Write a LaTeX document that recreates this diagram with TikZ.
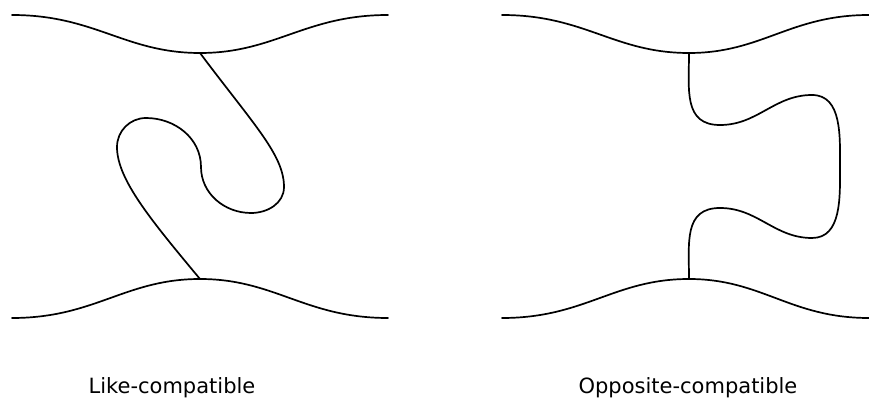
\documentclass[tikz,border=0pt]{standalone}
\usepackage{fontspec}
\setmainfont{DejaVu Sans}
\usepackage{tikz}

\begin{document}
\begin{tikzpicture}[x=1pt,y=1pt,
  strand/.style={line width=1.7pt,line cap=round},
  lbl/.style={font=\fontsize{21}{25}\selectfont,anchor=base}]
% canvas 869 x 399, y measured upwards; waves dip/peak at x=200 (left) and x=689 (right)
\useasboundingbox (0,0) rectangle (869,399);
\coordinate (ltop) at (200,346); \coordinate (lbot) at (200,120);
\coordinate (rtop) at (689,346); \coordinate (rbot) at (689,120);
% outer boundaries
\draw[strand] (12,384) .. controls (95,384) and (125,346) .. (ltop) .. controls (275,346) and (305,384) .. (388,384);
\draw[strand] (12,81) .. controls (95,81) and (125,120) .. (lbot) .. controls (275,120) and (305,81) .. (388,81);
\draw[strand] (502,384) .. controls (585,384) and (614,346) .. (rtop) .. controls (762,346) and (790,384) .. (869,384);
\draw[strand] (502,81) .. controls (585,81) and (614,120) .. (rbot) .. controls (762,120) and (790,81) .. (869,81);
% left strand, loops back on itself
\draw[strand] (ltop) .. controls (254,274) and (284,244) .. (284,212)
  to[out=-90,in=0] (251,186) to[out=180,in=-90] (201,232)
  to[out=90,in=0] (146,281) to[out=180,in=90] (117,252)
  .. controls (117,220) and (150,180) .. (lbot);
% right strand, bulges out to the right
\draw[strand] (rtop) to[out=-90,in=180,looseness=1.2] (720,274) to[out=0,in=180] (812,304)
  to[out=0,in=90] (840,232) to[out=-90,in=0] (812,161) to[out=180,in=0] (720,191)
  to[out=180,in=90,looseness=1.2] (rbot);
\node[lbl] (like) at (172,6) {Like-compatible};
\node[lbl] (opp) at (688,6) {Opposite-compatible};
\end{tikzpicture}
\end{document}
